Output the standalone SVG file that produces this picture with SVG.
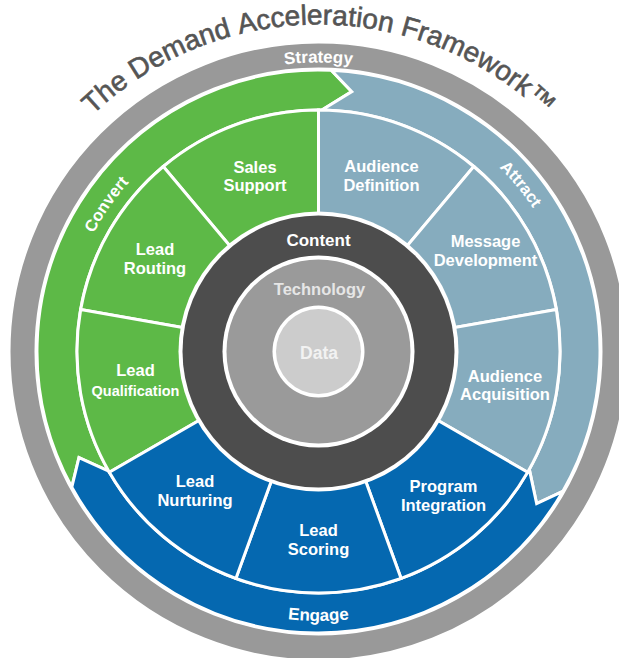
<svg xmlns="http://www.w3.org/2000/svg" width="619" height="658" viewBox="0 0 619 658">
  <defs>
    <style>
      .wedge { stroke: #ffffff; stroke-width: 3; stroke-linejoin: miter; }
      .band { stroke: #ffffff; stroke-width: 3; stroke-linejoin: miter; }
      .green { fill: #5db947; }
      .steel { fill: #86acbe; }
      .blue { fill: #0568b0; }
      .lbl { font-family: "Liberation Sans", Arial, sans-serif; font-weight: bold; font-size: 16.5px; fill: #ffffff; text-anchor: middle; }
      .small { font-size: 14.5px; }
      .ring-lbl { font-family: "Liberation Sans", Arial, sans-serif; font-weight: bold; font-size: 17px; fill: #ffffff; text-anchor: middle; }
      .title { font-family: "Liberation Sans", Arial, sans-serif; font-size: 28px; fill: #555555; stroke: #555555; stroke-width: 0.6; }
    </style>
    <!-- arcs used as baselines for curved labels (centre 318.5,351.5) -->
    <path id="arc-title" d="M -8.5 351.5 A 327 327 0 0 1 645.5 351.5"/>
    <path id="arc-strategy" d="M 29.5 351.5 A 289 289 0 0 1 607.5 351.5"/>
    <path id="arc-convert" d="M 64.5 351.5 A 254 254 0 0 1 572.5 351.5"/>
    <path id="arc-attract" d="M 60.5 351.5 A 258 258 0 0 1 576.5 351.5"/>
    <path id="arc-engage" d="M 49 351.5 A 269.5 269.5 0 0 0 588 351.5"/>
  </defs>

  <rect width="619" height="658" fill="#ffffff"/>

  <!-- title, one word per run along the same arc -->
  <g id="title">
    <text class="title"><textPath href="#arc-title" startOffset="264">The</textPath></text>
    <text class="title"><textPath href="#arc-title" startOffset="320">Demand</textPath></text>
    <text class="title"><textPath href="#arc-title" startOffset="433.5">Acceleration</textPath></text>
    <text class="title"><textPath href="#arc-title" startOffset="595.5">Framework™</textPath></text>
  </g>

  <!-- outer strategy ring -->
  <g id="strategy">
    <circle cx="318.5" cy="351.5" r="296" fill="none" stroke="#999999" stroke-width="24"/>
    <text class="ring-lbl"><textPath href="#arc-strategy" startOffset="50%">Strategy</textPath></text>
  </g>

  <!-- phase arrows: Convert, Attract, Engage -->
  <g id="cycle-arrows">
    <g id="convert">
      <path class="band green" d="M 71.82 487.11 A 281.5 281.5 0 0 1 331.27 70.29 L 351.79 91.62 L 321.87 110.02 A 241.5 241.5 0 0 0 108.73 471.15 L 78.97 457.65 Z"/>
      <text class="ring-lbl" style="font-size:16.5px"><textPath href="#arc-convert" startOffset="19.3%">Convert</textPath></text>
    </g>
    <g id="attract">
      <path class="band steel" d="M 331.27 70.29 A 281.5 281.5 0 0 1 562.78 491.40 L 536.66 503.69 L 529.31 469.32 A 241.5 241.5 0 0 0 321.87 110.02 L 351.79 91.62 Z"/>
      <text class="ring-lbl" style="font-size:16.5px"><textPath href="#arc-attract" startOffset="78%">Attract</textPath></text>
    </g>
    <g id="engage">
      <path class="band blue" d="M 562.78 491.40 A 281.5 281.5 0 0 1 71.82 487.11 L 78.97 457.65 L 108.73 471.15 A 241.5 241.5 0 0 0 529.31 469.32 L 536.66 503.69 Z"/>
      <text class="ring-lbl"><textPath href="#arc-engage" startOffset="50%">Engage</textPath></text>
    </g>
  </g>

  <!-- activity wedges -->
  <g id="sales-support">
    <path class="wedge green" d="M 318.5 351.5 L 163.27 166.50 A 241.5 241.5 0 0 1 318.5 110 Z"/>
    <text class="lbl" x="255" y="172.5">Sales</text>
    <text class="lbl" x="255" y="191">Support</text>
  </g>
  <g id="lead-routing">
    <path class="wedge green" d="M 318.5 351.5 L 80.67 309.56 A 241.5 241.5 0 0 1 163.27 166.50 Z"/>
    <text class="lbl" x="155" y="255">Lead</text>
    <text class="lbl" x="155" y="274">Routing</text>
  </g>
  <g id="lead-qualification">
    <path class="wedge green" d="M 318.5 351.5 L 109.35 472.25 A 241.5 241.5 0 0 1 80.67 309.56 Z"/>
    <text class="lbl" x="135.5" y="376">Lead</text>
    <text class="lbl small" x="135.5" y="395.5">Qualification</text>
  </g>
  <g id="audience-definition">
    <path class="wedge steel" d="M 318.5 351.5 L 318.5 110 A 241.5 241.5 0 0 1 473.73 166.50 Z"/>
    <text class="lbl" x="381.5" y="172">Audience</text>
    <text class="lbl" x="381.5" y="191">Definition</text>
  </g>
  <g id="message-development">
    <path class="wedge steel" d="M 318.5 351.5 L 473.73 166.50 A 241.5 241.5 0 0 1 556.33 309.56 Z"/>
    <text class="lbl" x="485.5" y="247">Message</text>
    <text class="lbl" x="485.5" y="266">Development</text>
  </g>
  <g id="audience-acquisition">
    <path class="wedge steel" d="M 318.5 351.5 L 556.33 309.56 A 241.5 241.5 0 0 1 527.65 472.25 Z"/>
    <text class="lbl" x="505" y="382">Audience</text>
    <text class="lbl" x="505" y="400">Acquisition</text>
  </g>
  <g id="program-integration">
    <path class="wedge blue" d="M 318.5 351.5 L 527.65 472.25 A 241.5 241.5 0 0 1 401.10 578.44 Z"/>
    <text class="lbl" x="443.5" y="492">Program</text>
    <text class="lbl" x="443.5" y="511">Integration</text>
  </g>
  <g id="lead-scoring">
    <path class="wedge blue" d="M 318.5 351.5 L 401.10 578.44 A 241.5 241.5 0 0 1 235.90 578.44 Z"/>
    <text class="lbl" x="318.5" y="536">Lead</text>
    <text class="lbl" x="318.5" y="555">Scoring</text>
  </g>
  <g id="lead-nurturing">
    <path class="wedge blue" d="M 318.5 351.5 L 235.90 578.44 A 241.5 241.5 0 0 1 109.35 472.25 Z"/>
    <text class="lbl" x="195" y="487">Lead</text>
    <text class="lbl" x="195" y="506">Nurturing</text>
  </g>

  <!-- core rings -->
  <g id="content">
    <circle cx="318.5" cy="351.5" r="140" fill="#ffffff"/>
    <circle cx="318.5" cy="351.5" r="136" fill="#4d4d4d"/>
    <text class="lbl" x="318.5" y="246" style="font-size:17px">Content</text>
  </g>
  <g id="technology">
    <circle cx="318.5" cy="351.5" r="96" fill="#ffffff"/>
    <circle cx="318.5" cy="351.5" r="92" fill="#9a9a9a"/>
    <text class="lbl" x="319.5" y="295" style="font-size:16.5px;fill:#e6e6e6">Technology</text>
  </g>
  <g id="data">
    <circle cx="318.5" cy="351.5" r="46" fill="#ffffff"/>
    <circle cx="318.5" cy="351.5" r="42.5" fill="#cccccc"/>
    <text class="lbl" x="319" y="358.5" style="font-size:17.5px;fill:#f2f2f2">Data</text>
  </g>
</svg>
